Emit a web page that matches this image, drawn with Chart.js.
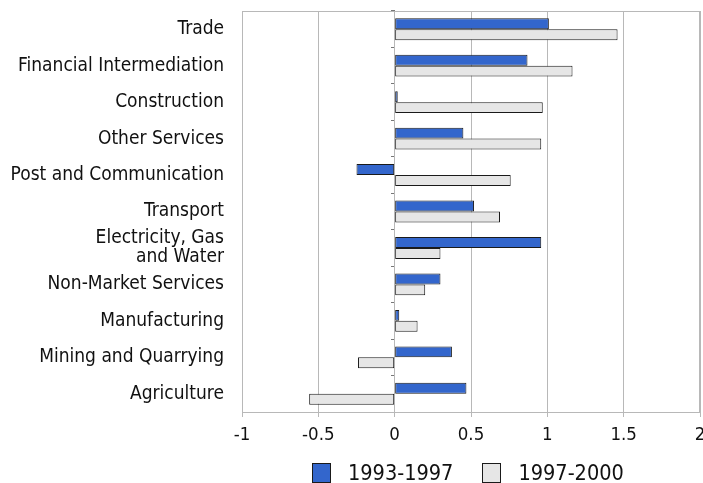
<!DOCTYPE html>
<html>
<head>
<meta charset="utf-8">
<script src="https://cdn.jsdelivr.net/npm/chart.js@4/dist/chart.umd.min.js"></script>
<style>
  html, body { margin: 0; padding: 0; background: #fff; }
  #wrap { position: relative; width: 703px; height: 483px; overflow: hidden; }
  #legend { position: absolute; left: 312px; top: 463px; display: flex; align-items: flex-start;
            font-family: 'DejaVu Sans Condensed', 'DejaVu Sans', sans-serif; font-size: 21.5px;
            line-height: 20px; color: #111; }
  #legend .item { display: flex; align-items: flex-start; margin-right: 29px; }
  #legend .box { width: 19px; height: 20px; box-sizing: border-box; border: 1px solid #1a1a1a; margin-right: 17px; }
</style>
</head>
<body>
<div id="wrap">
  <canvas id="sectorChart" width="703" height="483"></canvas>
  <div id="legend"></div>
</div>
<script>
const sectors = ['Trade', 'Financial Intermediation', 'Construction', 'Other Services',
    'Post and Communication', 'Transport', ['Electricity, Gas', 'and Water'],
    'Non-Market Services', 'Manufacturing', 'Mining and Quarrying', 'Agriculture'];
const growth9397 = [1.01, 0.87, 0.02, 0.45, -0.25, 0.52, 0.96, 0.30, 0.03, 0.375, 0.47];
const growth9700 = [1.46, 1.165, 0.97, 0.96, 0.76, 0.69, 0.30, 0.20, 0.15, -0.24, -0.56];
const seriesNames = ['1993-1997', '1997-2000'];
const seriesColors = ['#3366cc', '#e6e6e6'];

const FONT = "'DejaVu Sans Condensed', 'DejaVu Sans', sans-serif";
const GRID = '#b8b8b8';

// frame round the plot area (top and right sides are not drawn by the axes)
const plotFrame = {
    id: 'plotFrame',
    afterDraw(chart) {
        const a = chart.chartArea;
        const ctx = chart.ctx;
        ctx.save();
        ctx.strokeStyle = GRID;
        ctx.lineWidth = 1;
        ctx.strokeRect(Math.round(a.left) + 0.5, Math.round(a.top) + 0.5,
            Math.round(a.right - a.left) - 1, Math.round(a.bottom - a.top));
        ctx.restore();
    }
};

const chart = new Chart(document.getElementById('sectorChart'), {
    type: 'bar',
    data: {
        labels: sectors,
        datasets: [
            {
                label: seriesNames[0],
                data: growth9397,
                backgroundColor: seriesColors[0],
                borderColor: '#1a1a1a',
                borderWidth: 1,
                borderSkipped: false
            },
            {
                label: seriesNames[1],
                data: growth9700,
                backgroundColor: seriesColors[1],
                borderColor: '#1a1a1a',
                borderWidth: 1,
                borderSkipped: false
            }
        ]
    },
    options: {
        indexAxis: 'y',
        responsive: false,
        animation: false,
        categoryPercentage: 0.6,
        barPercentage: 1.0,
        layout: {
            padding: { top: 11, right: 3, left: 0, bottom: 31 }
        },
        plugins: {
            tooltip: { enabled: false },
            legend: { display: false }
        },
        scales: {
            y: {
                type: 'category',
                afterFit(scale) {
                    scale.width = 242;
                    scale.paddingTop = 0;
                    scale.paddingBottom = 0;
                },
                grid: { display: false },
                border: { display: false },
                ticks: {
                    autoSkip: false,
                    padding: 10,
                    color: '#111',
                    font: { family: FONT, size: 19, lineHeight: 1.0 }
                }
            },
            yZero: {
                type: 'category',
                axis: 'y',
                position: { x: 0 },
                ticks: { display: false },
                border: { display: false },
                grid: {
                    offset: true,
                    drawOnChartArea: false,
                    tickLength: 4,
                    color: '#777'
                }
            },
            x: {
                min: -1,
                max: 2,
                afterFit(scale) {
                    scale.height = 40;
                    scale.paddingLeft = 0;
                    scale.paddingRight = 0;
                },
                grid: {
                    color: GRID,
                    tickLength: 5
                },
                border: { color: GRID },
                ticks: {
                    stepSize: 0.5,
                    maxRotation: 0,
                    padding: 7,
                    color: '#111',
                    font: { family: FONT, size: 18.5 },
                    callback: function (value) { return String(value); }
                }
            }
        }
    },
    plugins: [plotFrame]
});

// legend built from the series names and colours
const legendEl = document.getElementById('legend');
chart.data.datasets.forEach(function (ds) {
    const item = document.createElement('div');
    item.className = 'item';
    const box = document.createElement('span');
    box.className = 'box';
    box.style.background = ds.backgroundColor;
    const txt = document.createElement('span');
    txt.textContent = ds.label;
    item.appendChild(box);
    item.appendChild(txt);
    legendEl.appendChild(item);
});
</script>
</body>
</html>
